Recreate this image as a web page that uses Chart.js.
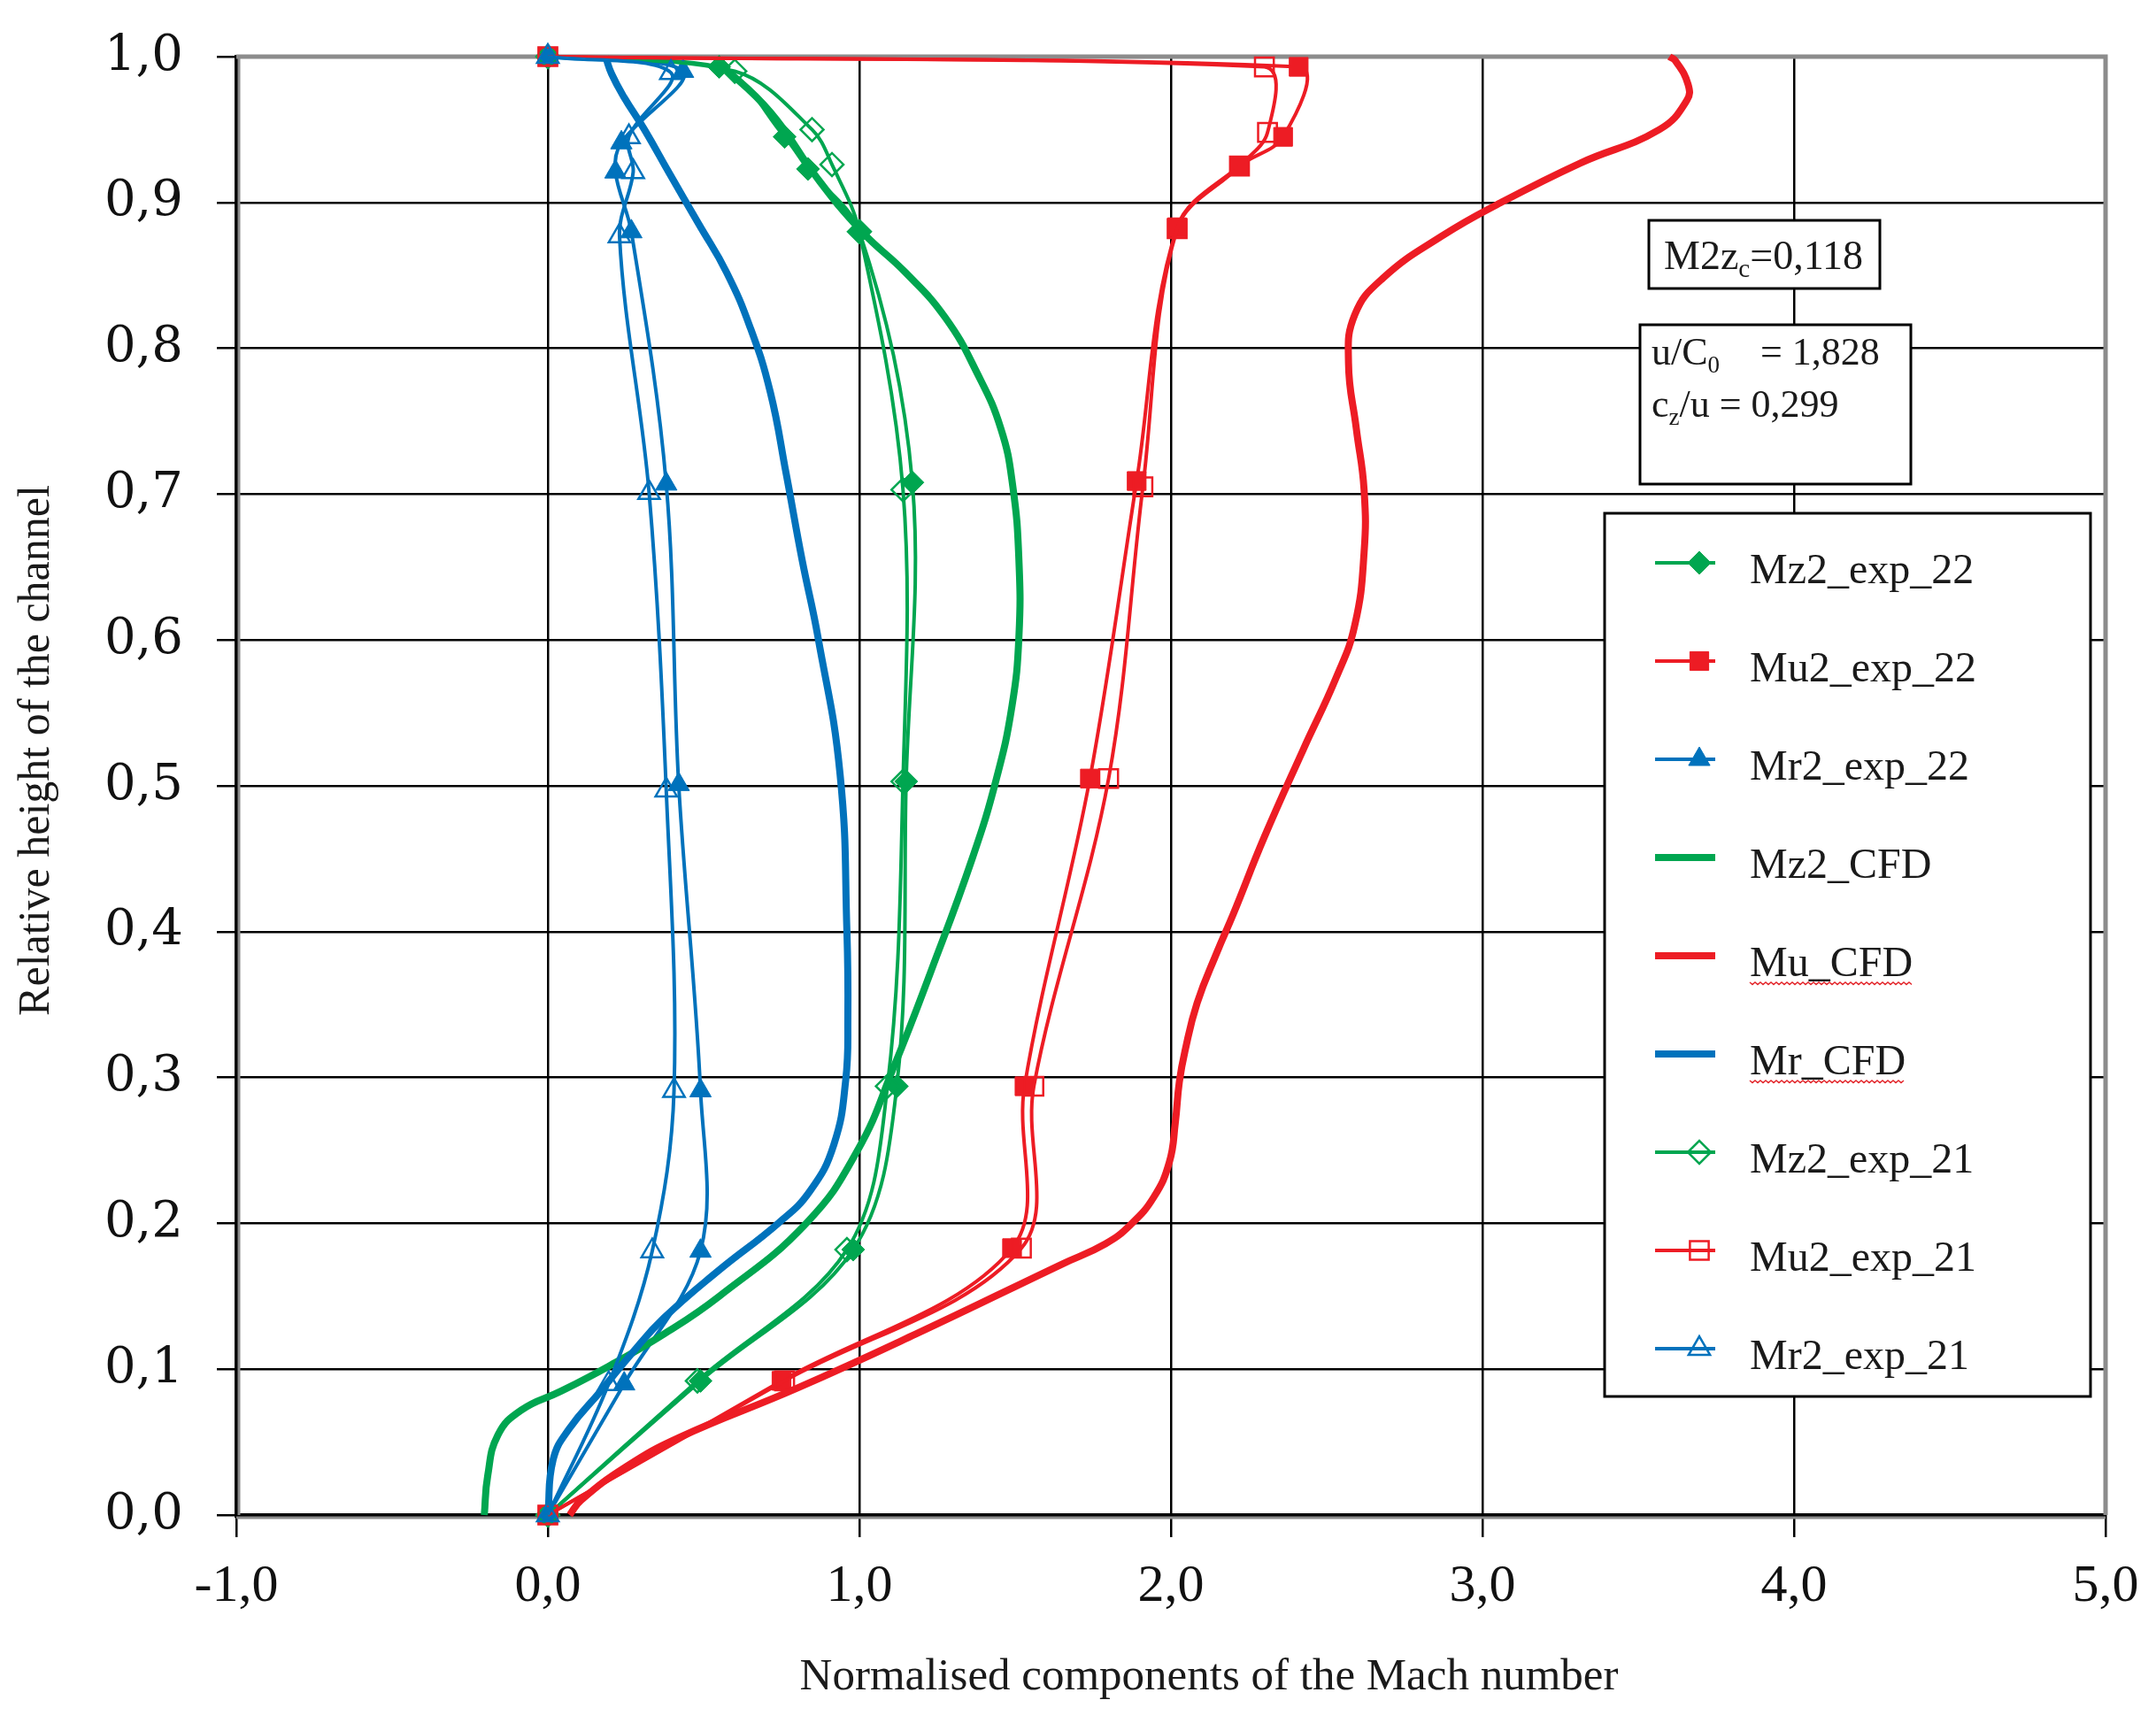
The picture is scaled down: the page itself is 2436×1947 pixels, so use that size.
<!DOCTYPE html>
<html>
<head>
<meta charset="utf-8">
<title>Normalised components of the Mach number</title>
<script src="https://cdn.jsdelivr.net/npm/chart.js@4.4.1/dist/chart.umd.min.js"></script>
<style>
    html, body { margin: 0; padding: 0; background: #fff; }
    canvas { display: block; }
</style>
</head>
<body>
<canvas id="machChart" width="2436" height="1947"></canvas>
<script>
// Series values: x = normalised Mach component, y = relative channel height
const mz2Exp22X = [0, 0.49, 0.98, 1.12, 1.15, 1.17, 1.00, 0.835, 0.76, 0.55, 0];
const mz2Exp22Y = [0, 0.092, 0.182, 0.294, 0.503, 0.708, 0.880, 0.923, 0.945, 0.993, 1.0];

const mu2Exp22X = [0, 0.75, 1.49, 1.53, 1.74, 1.89, 2.02, 2.22, 2.36, 2.41, 0];
const mu2Exp22Y = [0, 0.092, 0.183, 0.294, 0.505, 0.709, 0.883, 0.925, 0.945, 0.993, 1.0];

const mr2Exp22X = [0, 0.245, 0.49, 0.49, 0.42, 0.38, 0.268, 0.217, 0.236, 0.434, 0];
const mr2Exp22Y = [0, 0.090, 0.181, 0.291, 0.501, 0.707, 0.880, 0.921, 0.941, 0.990, 1.0];

const mz2CfdX = [-0.204, -0.193, -0.16, -0.085, 0.043, 0.195, 0.372, 0.55, 0.829, 0.994, 1.11, 1.23, 1.362, 1.44, 1.49, 1.512, 1.512, 1.492, 1.454, 1.378, 1.276, 1.148, 1.008, 0.867, 0.714, 0.548];
const mz2CfdY = [0.0, 0.027, 0.055, 0.072, 0.085, 0.102, 0.124, 0.150, 0.200, 0.250, 0.307, 0.373, 0.450, 0.505, 0.555, 0.602, 0.655, 0.706, 0.745, 0.783, 0.821, 0.852, 0.880, 0.916, 0.962, 0.996];

const muCfdX = [0.07, 0.106, 0.25, 0.42, 0.80, 1.18, 1.65, 1.79, 1.87, 1.945, 1.995, 2.014, 2.027, 2.045, 2.084, 2.148, 2.2, 2.3, 2.425, 2.53, 2.59, 2.62, 2.62, 2.595, 2.57, 2.59, 2.68, 2.87, 3.06, 3.314, 3.568, 3.656, 3.66, 3.62, 3.6];
const muCfdY = [0, 0.010, 0.033, 0.053, 0.087, 0.124, 0.172, 0.186, 0.199, 0.218, 0.242, 0.269, 0.297, 0.318, 0.351, 0.386, 0.412, 0.465, 0.525, 0.574, 0.610, 0.660, 0.703, 0.745, 0.790, 0.823, 0.848, 0.877, 0.900, 0.927, 0.950, 0.970, 0.981, 0.997, 1.0];

const mrCfdX = [0, 0.017, 0.068, 0.17, 0.27, 0.372, 0.55, 0.739, 0.841, 0.918, 0.956, 0.963, 0.96, 0.938, 0.867, 0.816, 0.765, 0.714, 0.65, 0.574, 0.485, 0.39, 0.31, 0.245, 0.205, 0.185];
const mrCfdY = [0, 0.038, 0.059, 0.085, 0.111, 0.135, 0.168, 0.200, 0.222, 0.254, 0.298, 0.341, 0.400, 0.508, 0.602, 0.655, 0.714, 0.770, 0.814, 0.852, 0.885, 0.920, 0.950, 0.972, 0.988, 1.0];

const mz2Exp21X = [0, 0.48, 0.96, 1.09, 1.14, 1.14, 1.00, 0.912, 0.848, 0.60, 0];
const mz2Exp21Y = [0, 0.092, 0.182, 0.294, 0.503, 0.703, 0.880, 0.926, 0.950, 0.990, 1.0];

const mu2Exp21X = [0, 0.76, 1.52, 1.56, 1.80, 1.91, 2.02, 2.22, 2.31, 2.30, 0];
const mu2Exp21Y = [0, 0.092, 0.183, 0.294, 0.505, 0.705, 0.882, 0.925, 0.948, 0.993, 1.0];

const mr2Exp21X = [0, 0.195, 0.335, 0.405, 0.38, 0.325, 0.23, 0.274, 0.26, 0.395, 0];
const mr2Exp21Y = [0, 0.090, 0.181, 0.291, 0.497, 0.701, 0.877, 0.921, 0.945, 0.989, 1.0];

const seriesNames = ['Mz2_exp_22', 'Mu2_exp_22', 'Mr2_exp_22', 'Mz2_CFD', 'Mu_CFD', 'Mr_CFD', 'Mz2_exp_21', 'Mu2_exp_21', 'Mr2_exp_21'];

const GREEN = '#00a650';
const RED = '#ed1c24';
const BLUE = '#0072bc';
const SERIF = '"Liberation Serif", "Times New Roman", serif';
const WIDE_SERIF = '"DejaVu Serif", serif';

function toPoints(xs, ys) {
    return xs.map((x, i) => ({ x: x, y: ys[i] }));
}

// experimental series: thin smoothed line with markers
function expSeries(name, xs, ys, color, style, radius, filled) {
    return {
        label: name,
        data: toPoints(xs, ys),
        showLine: true,
        borderColor: color,
        borderWidth: 4,
        tension: 0.35,
        pointStyle: style,
        pointRadius: radius,
        pointBorderColor: color,
        pointBorderWidth: filled ? 1 : 2.5,
        pointBackgroundColor: filled ? color : 'rgba(255,255,255,0)',
        clip: false
    };
}

// CFD series: thick smoothed line, no markers
function cfdSeries(name, xs, ys, color) {
    return {
        label: name,
        data: toPoints(xs, ys),
        showLine: true,
        borderColor: color,
        borderWidth: 8,
        tension: 0.45,
        pointRadius: 0,
        pointStyle: false,
        clip: false
    };
}

const datasets = [
    expSeries(seriesNames[0], mz2Exp22X, mz2Exp22Y, GREEN, 'rectRot', 13, true),
    expSeries(seriesNames[1], mu2Exp22X, mu2Exp22Y, RED, 'rect', 15, true),
    expSeries(seriesNames[2], mr2Exp22X, mr2Exp22Y, BLUE, 'triangle', 14, true),
    cfdSeries(seriesNames[3], mz2CfdX, mz2CfdY, GREEN),
    cfdSeries(seriesNames[4], muCfdX, muCfdY, RED),
    cfdSeries(seriesNames[5], mrCfdX, mrCfdY, BLUE),
    expSeries(seriesNames[6], mz2Exp21X, mz2Exp21Y, GREEN, 'rectRot', 13, false),
    expSeries(seriesNames[7], mu2Exp21X, mu2Exp21Y, RED, 'rect', 15, false),
    expSeries(seriesNames[8], mr2Exp21X, mr2Exp21Y, BLUE, 'triangle', 14, false)
];
// later series are painted on top, as in the original
datasets.forEach((ds, i) => { ds.order = datasets.length - i; });

const commaFmt = value => Number(value).toFixed(1).replace('.', ',');

// text with subscripts: runs = [[text, isSub], ...]
function drawRuns(ctx, runs, x, baseline, size) {
    let cx = x;
    runs.forEach(([t, sub]) => {
        ctx.font = (sub ? Math.round(size * 0.62) : size) + 'px ' + SERIF;
        ctx.fillText(t, cx, baseline + (sub ? size * 0.2 : 0));
        cx += ctx.measureText(t).width;
    });
}

function box(ctx, x1, y1, x2, y2) {
    ctx.fillStyle = '#fff';
    ctx.fillRect(x1, y1, x2 - x1, y2 - y1);
    ctx.strokeStyle = '#000';
    ctx.lineWidth = 3;
    ctx.strokeRect(x1, y1, x2 - x1, y2 - y1);
}

const framePlugin = {
    id: 'frame',
    beforeDatasetsDraw(chart) {
        const { ctx, chartArea: a } = chart;
        ctx.save();
        ctx.strokeStyle = '#8c8c8c';
        ctx.lineWidth = 5;
        ctx.beginPath();
        ctx.moveTo(a.left, a.top);
        ctx.lineTo(a.right, a.top);
        ctx.lineTo(a.right, a.bottom);
        ctx.stroke();
        ctx.lineWidth = 3;
        ctx.beginPath();
        ctx.moveTo(a.left + 3, a.top);
        ctx.lineTo(a.left + 3, a.bottom);
        ctx.moveTo(a.left, a.bottom + 3);
        ctx.lineTo(a.right, a.bottom + 3);
        ctx.stroke();
        ctx.restore();
    },
    afterDatasetsDraw(chart) {
        const ctx = chart.ctx;
        ctx.save();
        ctx.fillStyle = '#000';
        ctx.textBaseline = 'alphabetic';
        ctx.textAlign = 'left';

        // parameter boxes
        box(ctx, 1863, 249, 2124, 326);
        ctx.fillStyle = '#1a1a1a';
        drawRuns(ctx, [['M2z', false], ['c', true], ['=0,118', false]], 1880, 304, 46);

        box(ctx, 1853, 367, 2159, 547);
        ctx.fillStyle = '#1a1a1a';
        drawRuns(ctx, [['u/C', false], ['0', true]], 1866, 412, 44);
        drawRuns(ctx, [['= 1,828', false]], 1989, 412, 44);
        drawRuns(ctx, [['c', false], ['z', true], ['/u = 0,299', false]], 1866, 471, 44);

        // legend
        box(ctx, 1813, 580, 2362, 1578);
        chart.data.datasets.forEach((ds, i) => {
            const y = 636 + i * 111;
            ctx.strokeStyle = ds.borderColor;
            ctx.lineWidth = ds.borderWidth;
            ctx.lineCap = 'butt';
            ctx.beginPath();
            ctx.moveTo(1870, y);
            ctx.lineTo(1938, y);
            ctx.stroke();
            if (ds.pointRadius > 0) {
                ctx.fillStyle = ds.pointBackgroundColor;
                ctx.strokeStyle = ds.pointBorderColor;
                ctx.lineWidth = ds.pointBorderWidth;
                Chart.helpers.drawPoint(ctx, {
                    pointStyle: ds.pointStyle,
                    radius: ds.pointRadius,
                    rotation: 0,
                    borderWidth: ds.pointBorderWidth
                }, 1920, y);
            }
            ctx.fillStyle = '#1a1a1a';
            ctx.font = '48px ' + SERIF;
            ctx.textBaseline = 'middle';
            ctx.fillText(ds.label, 1977, y + 10);
            // the spell-check squiggle under the CFD labels
            if (ds.label === 'Mu_CFD' || ds.label === 'Mr_CFD') {
                const w = ctx.measureText(ds.label).width;
                ctx.strokeStyle = '#e3262b';
                ctx.lineWidth = 1.5;
                ctx.beginPath();
                for (let px = 0; px <= w; px += 3) {
                    const py = y + 30 + ((px / 3) % 2 === 0 ? 0 : 2.5);
                    if (px === 0) ctx.moveTo(1977 + px, py); else ctx.lineTo(1977 + px, py);
                }
                ctx.stroke();
            }
        });
        ctx.restore();
    },
    afterDraw(chart) {
        const ctx = chart.ctx;
        ctx.save();
        ctx.fillStyle = '#1a1a1a';
        ctx.font = '51px ' + SERIF;
        ctx.textAlign = 'center';
        ctx.textBaseline = 'middle';
        ctx.fillText('Normalised components of the Mach number', 1366, 1896);
        ctx.font = '50px ' + SERIF;
        ctx.translate(42, 848);
        ctx.rotate(-Math.PI / 2);
        ctx.fillText('Relative height of the channel', 0, 0);
        ctx.restore();
    }
};

new Chart(document.getElementById('machChart').getContext('2d'), {
    type: 'scatter',
    data: { datasets: datasets },
    options: {
        responsive: false,
        animation: false,
        layout: { padding: { top: 64, right: 57, left: 0, bottom: 0 } },
        plugins: {
            legend: { display: false },
            tooltip: { enabled: false }
        },
        scales: {
            x: {
                type: 'linear',
                min: -1,
                max: 5,
                ticks: {
                    stepSize: 1,
                    callback: commaFmt,
                    color: '#111',
                    padding: 20,
                    maxRotation: 0,
                    font: { family: SERIF, size: 60 }
                },
                grid: { color: '#000', lineWidth: 2.5, tickLength: 25 },
                border: { color: '#000', width: 5 },
                afterFit: scale => {
                    scale.height = 235;
                    scale.paddingLeft = 0;
                    scale.paddingRight = 0;
                }
            },
            y: {
                type: 'linear',
                min: 0,
                max: 1,
                ticks: {
                    stepSize: 0.1,
                    callback: commaFmt,
                    color: '#111',
                    padding: 38,
                    font: { family: WIDE_SERIF, size: 56 }
                },
                grid: { color: '#000', lineWidth: 2.5, tickLength: 22 },
                border: { color: '#000', width: 5 },
                afterFit: scale => {
                    scale.width = 267;
                    scale.paddingTop = 0;
                    scale.paddingBottom = 0;
                }
            }
        }
    },
    plugins: [framePlugin]
});
</script>
</body>
</html>
